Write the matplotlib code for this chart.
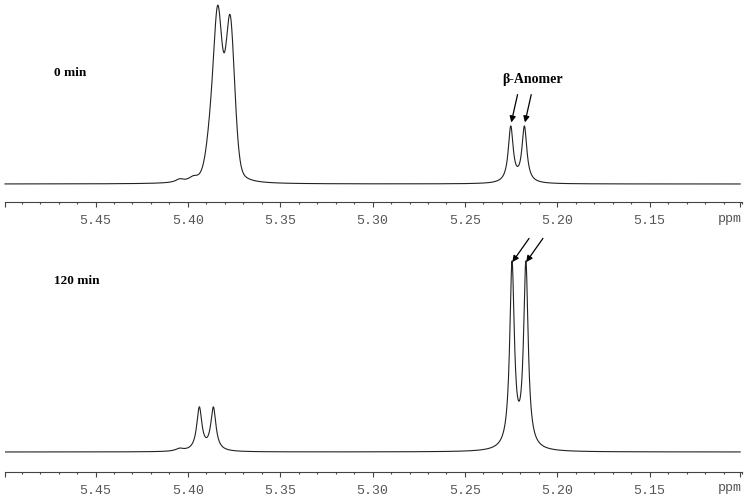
import numpy as np
import matplotlib.pyplot as plt

# chemical shift window (ppm, reversed axis)
ppm_left = 5.499
ppm_right = 5.101

# peak tables:
# centre (ppm), amplitude, half width (ppm), lorentzian fraction of the line
peaks_0min_ppm = [5.4045, 5.3970, 5.3882, 5.3838, 5.3771, 5.2252, 5.2178]
peaks_0min_amp = [3.0, 4.0, 30.0, 162.0, 158.0, 55.6, 55.6]
peaks_0min_hw = [0.0025, 0.0030, 0.0028, 0.0029, 0.0029, 0.0016, 0.0016]
peaks_0min_eta = [1.0, 1.0, 0.3, 0.3, 0.3, 1.0, 1.0]

peaks_120min_ppm = [5.4045, 5.3938, 5.3862, 5.2245, 5.2170]
peaks_120min_amp = [2.5, 43.0, 43.0, 184.0, 184.0]
peaks_120min_hw = [0.0025, 0.0017, 0.0017, 0.0015, 0.0015]
peaks_120min_eta = [1.0, 1.0, 1.0, 1.0, 1.0]

major_ticks = [5.45, 5.40, 5.35, 5.30, 5.25, 5.20, 5.15]
tick_labels = ["5.45", "5.40", "5.35", "5.30", "5.25", "5.20", "5.15"]

panel_labels = ["0 min", "120 min"]


def spectrum(ppm, centres, amps, widths, etas):
    y = np.zeros_like(ppm)
    for c, a, w, eta in zip(centres, amps, widths, etas):
        x = (ppm - c) / w
        lor = 1 / (1 + x ** 2)
        gau = np.exp(-np.log(2) * x ** 2)
        y += a * (eta * lor + (1 - eta) * gau)
    return y


def style_axis(ax, ppm_y):
    for side in ["top", "left", "right"]:
        ax.spines[side].set_visible(False)
    ax.spines["bottom"].set_color("#444444")
    ax.spines["bottom"].set_linewidth(0.8)
    ax.set_yticks([])
    ax.set_xlim(ppm_left, ppm_right)
    ax.set_xticks([ppm_left] + major_ticks + [ppm_right])
    ax.set_xticklabels([""] + tick_labels + [""])
    ax.set_xticks(np.arange(5.49, 5.10, -0.01), minor=True)
    ax.tick_params(axis="x", which="major", direction="out", length=3.5,
                   width=0.8, color="#444444", pad=6, labelsize=9.5,
                   labelcolor="#555555")
    ax.tick_params(axis="x", which="minor", direction="out", length=1.6,
                   width=0.8, color="#444444")
    for lbl in ax.get_xticklabels():
        lbl.set_family("Liberation Mono")
    ax.text(1.0, ppm_y, "ppm", transform=ax.transAxes, ha="right",
            va="center", family="Liberation Mono", fontsize=9.5,
            color="#555555")


fig = plt.figure(figsize=(7.48, 4.99), dpi=100)

ppm = np.linspace(ppm_left, ppm_right, 5000)

# top panel: 0 min
ax1 = fig.add_axes([5 / 748, 1 - 202 / 499, 737 / 748, 202 / 499])
y0 = spectrum(ppm, peaks_0min_ppm, peaks_0min_amp, peaks_0min_hw,
              peaks_0min_eta)
ax1.plot(ppm, y0, color="#222222", lw=0.8, clip_on=False)
ax1.set_ylim(-18, 184)
style_axis(ax1, -17 / 202)

# bottom panel: 120 min
ax2 = fig.add_axes([5 / 748, 1 - 472 / 499, 737 / 748, 222 / 499])
y1 = spectrum(ppm, peaks_120min_ppm, peaks_120min_amp, peaks_120min_hw,
              peaks_120min_eta)
ax2.plot(ppm, y1, color="#222222", lw=0.8)
ax2.set_ylim(-20, 202)
style_axis(ax2, -16 / 222)

fig.text(54 / 748, 1 - 73 / 499, panel_labels[0], fontsize=9.5,
         family="Liberation Serif", weight="bold", va="center")
fig.text(54 / 748, 1 - 281 / 499, panel_labels[1], fontsize=9.5,
         family="Liberation Serif", weight="bold", va="center")

# beta anomer arrows
arrow = dict(arrowstyle="-|>", color="black", lw=0.9, mutation_scale=9,
             shrinkA=0, shrinkB=0)
for c, a in zip(peaks_0min_ppm[5:], peaks_0min_amp[5:]):
    ax1.annotate("", xy=(c - 0.0003, a + 6), xytext=(4.5, 20),
                 textcoords="offset points", arrowprops=arrow)
ax1.text(5.2135, 104, "\u03b2-Anomer", ha="center", va="center",
         family="Liberation Serif", weight="bold", fontsize=10)

for c, a in zip(peaks_120min_ppm[3:], peaks_120min_amp[3:]):
    ax2.annotate("", xy=(c - 0.0002, a + 6), xytext=(12, 17),
                 textcoords="offset points", arrowprops=arrow,
                 annotation_clip=False)

fig.savefig("out.png", dpi=100)
